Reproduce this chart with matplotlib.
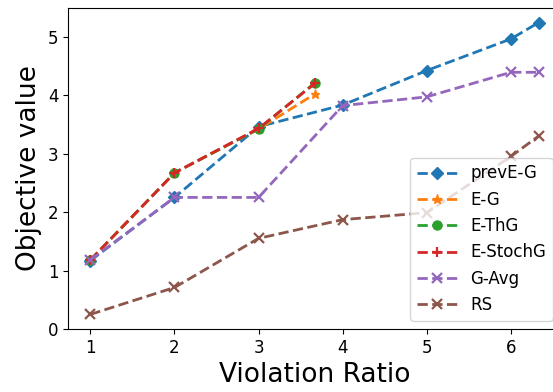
import matplotlib
matplotlib.use("Agg")
import matplotlib.pyplot as plt

x_full = [1, 2, 3, 4, 5, 6, 6.33]
x_short = [1, 2, 3, 3.67]

prevEG = [1.17, 2.25, 3.46, 3.83, 4.42, 4.96, 5.24]
EG = [1.18, 2.67, 3.42, 4.02]
EThG = [1.18, 2.67, 3.42, 4.21]
EStochG = [1.18, 2.67, 3.43, 4.20]
GAvg = [1.18, 2.25, 2.25, 3.82, 3.97, 4.39, 4.39]
RS = [0.25, 0.71, 1.55, 1.87, 1.99, 2.95, 3.30]

fig = plt.figure(figsize=(5.53, 3.92), dpi=100)
W, H = 553, 392
ax = fig.add_axes([68 / W, 63 / H, (561 - 68) / W, (329 - 8) / H])

lw = 2
ms = 6.5
ax.plot(x_full, prevEG, '--', lw=lw, marker='D', color='#1f77b4', label='prevE-G', markersize=ms)
ax.plot(x_short, EG, '--', lw=lw, marker='*', color='#ff7f0e', label='E-G', markersize=ms)
ax.plot(x_short, EThG, '--', lw=lw, marker='o', color='#2ca02c', label='E-ThG', markersize=ms)
ax.plot(x_short, EStochG, '--', lw=lw, marker='+', color='#d62728', label='E-StochG',
        markersize=7, markeredgewidth=1.6)
ax.plot(x_full, GAvg, '--', lw=lw, marker='x', color='#9467bd', label='G-Avg',
        markersize=7, markeredgewidth=1.6)
ax.plot(x_full, RS, '--', lw=lw, marker='x', color='#8c564b', label='RS',
        markersize=7, markeredgewidth=1.6)

ax.set_xticks([1, 2, 3, 4, 5, 6])
ax.set_yticks([0, 1, 2, 3, 4, 5])
ax.tick_params(labelsize=12)
ax.set_xlabel('Violation Ratio', fontsize=19)
ax.set_ylabel('Objective value', fontsize=19)
ax.legend(loc='lower right', fontsize=12, handlelength=2.38, handletextpad=0.8)

fig.savefig('out.png', dpi=100)
